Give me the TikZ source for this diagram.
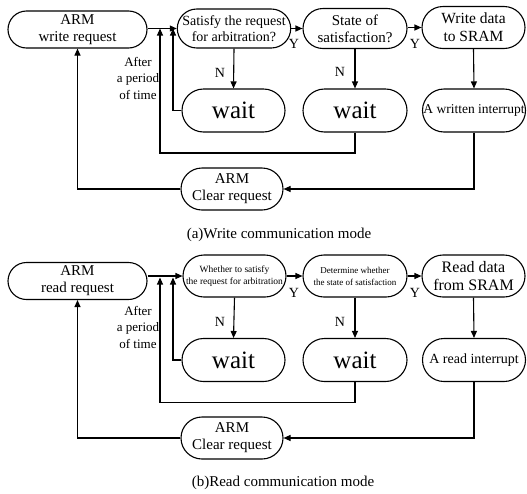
\documentclass[tikz,border=0pt]{standalone}
\usepackage{fontspec}
\setmainfont{Liberation Serif}
\usetikzlibrary{arrows.meta,shapes.misc}

\newcommand\fsz[2]{\fontsize{#1}{#2}\selectfont}

\tikzset{
  flow/.style={draw, line width=1.1pt, rounded rectangle, align=center,
               inner sep=0pt, minimum width=103pt, minimum height=42pt},
  wire/.style={line width=1.1pt, -{Triangle[length=7pt,width=6pt]}},
  tag/.style={font=\fsz{14}{16}},
  note/.style={align=center, font=\fsz{13}{16.5}},
  caption/.style={font=\fsz{15}{17}}
}

\begin{document}
\begin{tikzpicture}[x=1pt,y=-1pt]
\useasboundingbox (0,0) rectangle (527,493);

% ---------------- write communication mode ----------------
\node[flow, minimum width=139pt, minimum height=37pt, font=\fsz{15}{17}] (aarm) at (77.5,29.5) {ARM\\write request};
\node[flow, minimum width=104pt, minimum height=39pt, font=\fsz{14}{16}] (asat) at (234,28.5) {Satisfy the request\\for arbitration?};
\node[flow, minimum width=104pt, minimum height=40pt, font=\fsz{15}{17}] (ast) at (355,28.5) {State of\\satisfaction?};
\node[flow, font=\fsz{15.5}{18}] (awr) at (473.5,27.5) {Write data\\to SRAM};
\node[flow, minimum height=43pt, font=\fsz{25}{28}] (aw1) at (233.5,110.5) {wait};
\node[flow, minimum width=104pt, minimum height=43pt, font=\fsz{25}{28}] (aw2) at (355,110.5) {wait};
\node[flow, minimum height=43pt, font=\fsz{13.5}{16}] (aint) at (474,110.5) {A written interrupt};
\node[flow, minimum width=102pt, font=\fsz{15}{17}] (aclr) at (232,189) {ARM\\Clear request};

\coordinate (aj1) at (173,28.5);
\coordinate (aj2) at (160,28.5);
\coordinate (ac2) at (160,153);

\draw[wire] (aarm.east |- asat.west) -- (asat.west);
\draw[wire] (asat.east) -- (ast.west);
\draw[wire] (ast.east |- awr.west) -- (awr.west);
\draw[wire] (asat.south) -- (aw1.north);
\draw[wire] (ast.south) -- (aw2.north);
\draw[wire] (awr.south) -- (aint.north);
\draw[wire] (aw1.west) -| (aj1);
\draw[wire] (aw2.south) |- (ac2) -- (aj2);
\draw[wire] (aint.south) |- (aclr.east);
\draw[wire] (aclr.west) -| (aarm.south);

\node[tag] (ay1) at (294,43.5) {Y};
\node[tag] (ay2) at (415,43.5) {Y};
\node[tag] (an1) at (220,73) {N};
\node[tag] (an2) at (340,72) {N};
\node[note] (aafter) at (138,78) {After\\a period\\of time};
\node[caption] (acap) at (279,235) {(a)Write communication mode};

% ---------------- read communication mode ----------------
\node[flow, minimum width=139pt, minimum height=37pt, font=\fsz{15}{17}] (barm) at (77.5,281) {ARM\\read request};
\node[flow, font=\fsz{9.5}{12}] (bsat) at (234.5,276) {Whether to satisfy\\the request for arbitration};
\node[flow, minimum width=104pt, font=\fsz{9}{12}] (bdet) at (355,276) {Determine whether\\the state of satisfaction};
\node[flow, font=\fsz{16}{18.5}] (brd) at (473.5,276) {Read data\\from SRAM};
\node[flow, minimum height=43pt, font=\fsz{25}{28}] (bw1) at (233.5,360) {wait};
\node[flow, minimum width=104pt, minimum height=43pt, font=\fsz{25}{28}] (bw2) at (355,360) {wait};
\node[flow, minimum height=43pt, font=\fsz{14}{16}] (bint) at (474,360) {A read interrupt};
\node[flow, minimum width=102pt, font=\fsz{15}{17}] (bclr) at (232,438) {ARM\\Clear request};

\coordinate (bj1) at (173,277.5);
\coordinate (bj2) at (160,277.5);
\coordinate (bc2) at (160,402.5);

\draw[wire] (barm.east |- bsat.west) -- (bsat.west);
\draw[wire] (bsat.east) -- (bdet.west);
\draw[wire] (bdet.east) -- (brd.west);
\draw[wire] (bsat.south) -- (bw1.north);
\draw[wire] (bdet.south) -- (bw2.north);
\draw[wire] (brd.south) -- (bint.north);
\draw[wire] (bw1.west) -| (bj1);
\draw[wire] (bw2.south) |- (bc2) -- (bj2);
\draw[wire] (bint.south) |- (bclr.east);
\draw[wire] (bclr.west) -| (barm.south);

\node[tag] (by1) at (294,293) {Y};
\node[tag] (by2) at (415,293) {Y};
\node[tag] (bn1) at (220,322) {N};
\node[tag] (bn2) at (340,321.5) {N};
\node[note] (bafter) at (138,327) {After\\a period\\of time};
\node[caption] (bcap) at (283,483) {(b)Read communication mode};
\end{tikzpicture}
\end{document}
